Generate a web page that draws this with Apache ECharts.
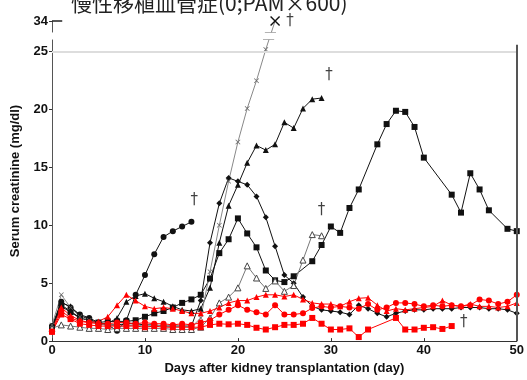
<!DOCTYPE html>
<html lang="ja">
<head>
<meta charset="UTF-8" />
<script src="https://cdn.jsdelivr.net/npm/echarts@6.0.0/dist/echarts.min.js"></script>
<title>Serum creatinine</title>
<style>html,body{margin:0;padding:0;background:#fff}</style>
</head>
<body>
<div id="app" style="width:527px;height:380px"></div>
<script>
// values per day, index = day after transplantation (null = not measured)
const blackCircle = [1.3, 3.4, 2.9, 2.3, 2.0, 1.6, 1.4, 0.9, 1.8, 4.0, 5.7, 7.5, 9.0, 9.5, 9.9, 10.3];
const blackTriangle = [1.2, 3.3, 3.0, 2.2, 1.9, 1.5, 1.5, 2.0, 3.4, 3.9, 4.1, 3.7, 3.4, 3.0, 2.7, 2.6, 2.8, 4.6, 8.5, 11.7,
  13.5, 15.4, 16.9, 16.5, 17.0, 18.9, 18.4, 20.1, 20.9, 21.0];
const cross = [1.4, 4.0, 2.9, 2.1, 1.8, 1.5, 1.4, 1.3, 1.3, 1.4, 1.3, 1.3, 1.4, 1.3, 1.3, 1.2, 2.0, 6.0, 10.0, 13.8,
  17.2, 20.1, 22.5, 25.2, 34];
const blackDiamond = [1.2, 3.1, 2.6, 2.0, 1.8, 1.5, 1.4, 1.4, 1.5, 1.5, 1.4, 1.4, 1.3, 1.3, 1.3, 1.3, 3.5, 8.5, 11.9, 14.1,
  13.8, 13.5, 12.5, 10.7, 8.2, 5.7, 5.0, 3.8, 3.0, 2.7, 2.6, 2.5, 2.3, 3.1, 2.8, 2.4, 2.1, 2.4, 2.6, 2.7,
  2.7, 2.8, 2.8, 2.8, 2.9, 2.9, 2.9, 2.8, 2.8, 2.7, 2.4];
const blackSquare = [1.1, 3.0, 2.5, 2.0, 1.8, 1.6, 1.7, 1.7, 1.7, 1.8, 2.1, 2.4, 2.6, 2.9, 3.3, 3.6, 4.0, 5.4, 7.6, 8.8,
  10.6, 9.3, 8.1, 6.1, 5.25, 5.1, 5.6, null, 6.9, 8.3, 9.9, 9.35, 11.5, 13.1, null, 17.0, 18.75, 19.9, 19.8, 18.5,
  15.85, null, null, 12.65, 11.1, 14.5, 13.1, 11.3, null, 9.7, 9.5];
const openTriangle = [1.1, 1.4, 1.3, 1.2, 1.1, 1.1, 1.0, 1.1, 1.1, 1.1, 1.1, 1.1, 1.1, 1.0, 1.0, 1.0, 1.2, 2.0, 3.3, 3.8,
  4.6, 6.5, 5.45, 4.55, 5.2, 4.3, 4.8, 7.0, 9.2, 9.1];
const redTriangle = [0.9, 2.9, 2.2, 1.8, 1.6, 1.7, 2.1, 3.1, 4.0, 3.5, 3.0, 2.8, 2.9, 2.8, 2.6, 2.4, 2.4, 2.6, 2.9, 3.3,
  3.5, 3.5, 3.8, 4.0, 4.0, 3.85, 4.0, 3.6, 3.3, 3.2, 3.2, 3.0, 3.4, 3.7, 3.75, 3.1, 2.6, 2.8, 2.7, 2.8,
  2.9, 3.0, 3.5, 3.1, 3.0, 3.2, 3.0, 3.0, 2.9, 3.0, 3.3];
const redCircle = [0.8, 2.6, 2.0, 1.7, 1.6, 1.5, 1.5, 1.6, 1.6, 1.5, 1.6, 1.5, 1.5, 1.4, 1.5, 1.4, 1.6, 1.8, 2.3, 2.7,
  3.1, 2.7, 2.5, 2.3, 3.1, 2.3, 2.3, 2.4, 2.85, 3.0, 2.9, 3.0, 2.9, 2.8, 3.2, 2.7, 2.9, 3.3, 3.3, 3.2,
  3.0, 3.1, 3.0, 3.1, 3.0, 3.1, 3.6, 3.5, 3.2, 3.4, 4.0];
const redSquare = [0.8, 2.3, 1.9, 1.5, 1.4, 1.3, 1.3, 1.3, 1.3, 1.3, 1.2, 1.3, 1.2, 1.2, 1.2, 1.2, 1.2, 1.4, 1.5, 1.45,
  1.5, 1.4, 1.15, 1.0, 1.2, 1.4, 1.4, 1.5, 2.0, 1.5, 1.0, 1.0, 1.1, 0.35, 1.0, null, null, 2.0, 1.0, 1.0,
  1.15, 1.2, 1.05, 1.3];
// death marks (day, level)
const deaths = [[15.3, 12.2], [25.6, 34], [29.8, 23.0], [29.0, 11.3], [44.3, 1.6]];
const yLabels = [0, 5, 10, 15, 20, 25, 34];
const breakFrom = 26.1, breakTo = 33;

const chart = echarts.init(document.getElementById('app'));
const font = 'Liberation Sans, Arial, sans-serif';
const crossPath = 'path://M0,1L1,0L5,4L9,0L10,1L6,5L10,9L9,10L5,6L1,10L0,9L4,5Z';

function pts(vals) {
  return vals.map((v, i) => [i, v]).filter(p => p[1] != null);
}

function line(vals, symbol, color, extra) {
  return Object.assign({
    type: 'line',
    data: pts(vals),
    symbol: symbol,
    symbolSize: 6,
    clip: false,
    lineStyle: { color: color, width: 1 },
    itemStyle: { color: color },
    emphasis: { disabled: true }
  }, extra || {});
}

// short horizontal bar used for the break marks
function bar(x0, x1, y, color) {
  return [{ coord: [x0, y], lineStyle: { color: color, width: 1.5, type: 'solid' } }, { coord: [x1, y] }];
}

const crossData = pts(cross);
crossData[crossData.length - 1] = { value: crossData[crossData.length - 1], symbolSize: 10, itemStyle: { color: '#111' } };

chart.setOption({
  animation: false,
  title: {
    text: '慢性移植血管症(0;PAM×600)',
    left: 66,
    top: -12,
    textStyle: { fontFamily: 'Noto Sans CJK JP', fontSize: 21, fontWeight: 'normal', color: '#222' }
  },
  grid: { left: 52, right: 7, top: 21, bottom: 33 },
  xAxis: {
    type: 'value', min: 0, max: 50, interval: 10,
    name: 'Days after kidney transplantation (day)',
    nameLocation: 'middle', nameGap: 17,
    nameTextStyle: { fontFamily: font, fontSize: 13, fontWeight: 'bold', color: '#111' },
    axisLine: { lineStyle: { color: '#333', width: 1 } },
    axisTick: { inside: true, length: 3, lineStyle: { color: '#333' } },
    axisLabel: { fontFamily: font, fontSize: 13, fontWeight: 'bold', color: '#111', margin: 3 },
    splitLine: { show: false }
  },
  yAxis: [{
    type: 'value', min: 0, max: 34, interval: 5,
    breaks: [{ start: breakFrom, end: breakTo, gap: '2%' }],
    breakArea: {
      show: true,
      itemStyle: { color: '#fff', borderColor: '#fff', borderWidth: 0, opacity: 1 },
      zigzagAmplitude: 0
    },
    name: 'Serum creatinine (mg/dl)',
    nameLocation: 'middle', nameGap: 30,
    nameTextStyle: { fontFamily: font, fontSize: 13, fontWeight: 'bold', color: '#111' },
    axisLine: { show: true, lineStyle: { color: '#555', width: 1 } },
    axisTick: { show: true, length: 3, customValues: yLabels, lineStyle: { color: '#333' } },
    axisLabel: {
      fontFamily: font, fontSize: 13, fontWeight: 'bold', color: '#111', margin: 4,
      customValues: yLabels,
      formatter: v => String(Math.round(v))
    },
    splitLine: { show: false }
  }],
  series: [
    line(blackDiamond, 'diamond', '#111', {
      markLine: {
        silent: true, symbol: 'none', label: { show: false },
        data: [
          [{ coord: [0, 25], lineStyle: { color: '#ddd', width: 2, type: 'solid' } }, { coord: [50, 25] }],
          [{ coord: [50, 0], lineStyle: { color: '#555', width: 2, type: 'solid' } }, { coord: [50, 25.6] }],
          bar(-0.6, 0.6, breakFrom, '#222'),
          bar(-0.6, 0.6, breakTo, '#222'),
          bar(0, 1.1, 34, '#222'),
          bar(22.7, 23.9, breakFrom, '#333'),
          bar(22.9, 24.1, breakTo, '#333')
        ]
      }
    }),
    line(blackCircle, 'circle', '#111'),
    line(blackTriangle, 'triangle', '#111'),
    line(blackSquare, 'rect', '#111'),
    line(cross, crossPath, '#666', { data: crossData, symbolSize: 5, lineStyle: { color: '#888', width: 1 } }),
    line(openTriangle, 'triangle', '#777', { itemStyle: { color: '#fff', borderColor: '#444', borderWidth: 1 } }),
    line(redCircle, 'circle', '#ff0000'),
    line(redTriangle, 'triangle', '#ff0000'),
    line(redSquare, 'rect', '#ff0000'),
    {
      type: 'scatter',
      data: deaths,
      symbolSize: 1,
      clip: false,
      itemStyle: { color: 'rgba(0,0,0,0)' },
      label: { show: true, position: 'inside', formatter: '†', fontSize: 15, color: '#111', fontFamily: 'DejaVu Sans' },
      emphasis: { disabled: true }
    }
  ]
});
</script>
</body>
</html>
